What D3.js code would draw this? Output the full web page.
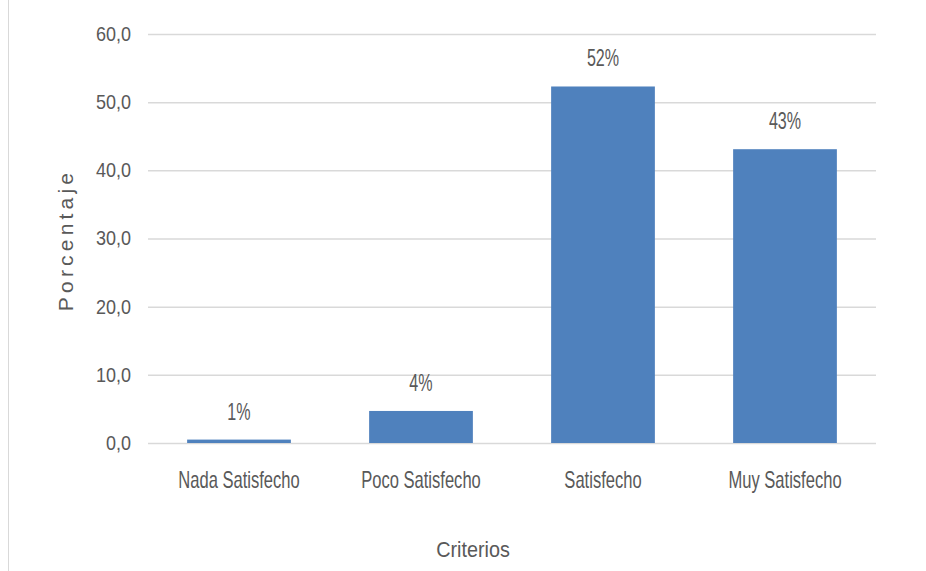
<!DOCTYPE html>
<html><head><meta charset="utf-8">
<script src="https://cdn.jsdelivr.net/npm/d3@7"></script>
<style>
html,body{margin:0;padding:0;background:#fff;}
text{font-family:"Liberation Sans",Arial,sans-serif;fill:#595959;}
</style></head>
<body>
<svg id="chart" width="926" height="571"></svg>
<script>
const categories = ["Nada Satisfecho", "Poco Satisfecho", "Satisfecho", "Muy Satisfecho"];
const values = [0.5, 4.7, 52.3, 43.1];
const valueLabels = ["1%", "4%", "52%", "43%"];
const yTicks = [0, 10, 20, 30, 40, 50, 60];
const yTitle = "Porcentaje";
const xTitle = "Criterios";

const svg = d3.select("#chart");
const margin = {left: 148, right: 50, top: 34, bottom: 128};
const W = 926, H = 571;
const FONT = '"Liberation Sans",Arial,sans-serif';

svg.append("line").attr("x1", 8.5).attr("x2", 8.5).attr("y1", 0).attr("y2", H)
  .attr("stroke", "#d9d9d9").attr("stroke-width", 1);

const x = d3.scaleBand().domain(categories).range([margin.left, W - margin.right]).paddingInner(0.43).paddingOuter(0.215);
const y = d3.scaleLinear().domain([0, 60]).range([H - margin.bottom, margin.top]);

const fmt = d => d3.format(".1f")(d).replace(".", ",");

// y axis with gridlines
const tickSx = 0.9, tickPad = 17;
const yAxis = d3.axisLeft(y).tickValues(yTicks).tickFormat(fmt).tickSize(-(W - margin.left - margin.right)).tickPadding(tickPad);
const gy = svg.append("g").attr("transform", `translate(${margin.left},0)`).call(yAxis);
gy.select(".domain").remove();
gy.selectAll(".tick line").attr("stroke", "#d9d9d9").attr("stroke-width", 1.5);
gy.selectAll(".tick text").attr("font-size", 20).attr("fill", "#595959").attr("font-family", FONT)
  .attr("x", -tickPad / tickSx).attr("transform", `scale(${tickSx},1)`);

// bars
svg.append("g").selectAll("rect").data(values).join("rect")
  .attr("x", (d, i) => x(categories[i]))
  .attr("width", x.bandwidth())
  .attr("y", d => y(d))
  .attr("height", d => y(0) - y(d))
  .attr("fill", "#4f81bd");

// value labels
const labSx = 0.7;
svg.append("g").selectAll("text").data(values).join("text")
  .attr("transform", (d, i) => `translate(${x(categories[i]) + x.bandwidth() / 2},${y(d) - 20}) scale(${labSx},1)`)
  .attr("text-anchor", "middle").attr("font-size", 23)
  .text((d, i) => valueLabels[i]);

// x axis labels
const catSx = 0.72;
const xAxis = d3.axisBottom(x).tickSize(0);
const gx = svg.append("g").attr("transform", `translate(0,${y(0)})`).call(xAxis);
gx.select(".domain").remove();
gx.selectAll(".tick text").attr("font-size", 23).attr("fill", "#595959").attr("font-family", FONT)
  .attr("y", 45).attr("dy", 0).attr("transform", `scale(${catSx},1)`);

// axis titles
svg.append("text").attr("transform", "translate(473,557) scale(0.9,1)").attr("text-anchor", "middle")
  .attr("font-size", 22)
  .text(xTitle);

svg.append("text").attr("transform", "translate(73,240) rotate(-90)").attr("text-anchor", "middle")
  .attr("font-size", 21).attr("letter-spacing", 4.2)
  .text(yTitle);
</script>
</body></html>
